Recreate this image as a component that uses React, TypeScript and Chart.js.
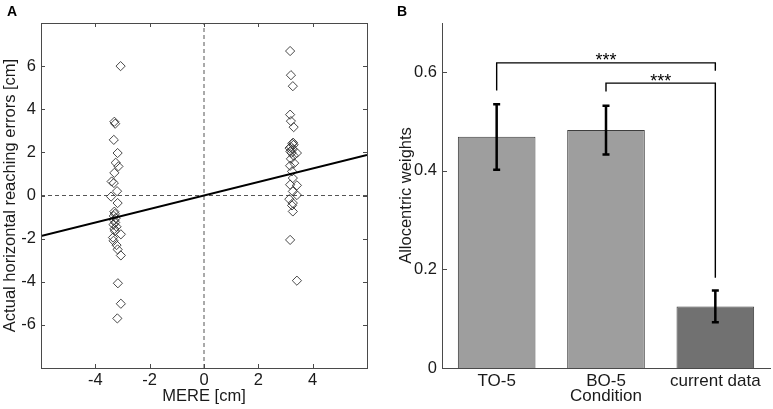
import React, { useEffect, useRef } from 'react';
import { Chart, registerables } from 'chart.js';
Chart.register(...registerables);

// ---------- Panel A data ----------
const leftX = [-3.07, -3.30, -3.27, -3.32, -3.18, -3.25, -3.15, -3.30, -3.40, -3.32, -3.20, -3.42, -3.18, -3.30, -3.28, -3.32, -3.25, -3.30, -3.27, -3.33, -3.22, -3.30, -3.28, -3.06, -3.35, -3.33, -3.22, -3.18, -3.06, -3.17, -3.06, -3.19];
const leftY = [6.0, 3.42, 3.33, 2.58, 1.97, 1.52, 1.35, 1.05, 0.65, 0.58, 0.20, -0.05, -0.35, -0.75, -0.85, -0.95, -1.05, -1.15, -1.25, -1.35, -1.45, -1.55, -1.65, -1.80, -1.95, -2.10, -2.30, -2.50, -2.78, -4.07, -5.02, -5.70];
const rightX = [3.17, 3.20, 3.27, 3.17, 3.20, 3.30, 3.28, 3.25, 3.30, 3.20, 3.15, 3.27, 3.18, 3.22, 3.42, 3.30, 3.20, 3.32, 3.17, 3.24, 3.27, 3.17, 3.42, 3.27, 3.42, 3.14, 3.27, 3.24, 3.27, 3.17, 3.42];
const rightY = [6.70, 5.58, 5.07, 3.75, 3.45, 3.17, 2.45, 2.40, 2.35, 2.25, 2.20, 2.15, 2.05, 1.98, 1.97, 1.85, 1.70, 1.50, 1.38, 1.12, 0.81, 0.50, 0.47, 0.19, 0.02, -0.17, -0.35, -0.46, -0.74, -2.06, -3.95];
const fitX = [-6, 6];
const fitY = [-1.88, 1.88];
const xTicksA = [-4, -2, 0, 2, 4];
const yTicksA = [-6, -4, -2, 0, 2, 4, 6];

// ---------- Panel B data ----------
const categories = ['TO-5', 'BO-5', 'current data'];
const weights = [0.469, 0.483, 0.125];
const errLow = [0.402, 0.433, 0.093];
const errHigh = [0.535, 0.532, 0.157];
const yTicksB = [0, 0.2, 0.4, 0.6];
const bracketFrom = [0, 1];
const bracketTo = [2, 2];
const bracketTop = [0.619, 0.578];
const bracketLeftEnd = [0.563, 0.561];
const bracketRightEnd = [0.603, 0.183];
const bracketLabels = ['***', '***'];

const FONT = "'Liberation Sans', Arial, Helvetica, sans-serif";
const TEXT = '#1a1a1a';
const AXIS = '#4a4a4a';

const frameA = {
  id: 'frameA',
  afterDatasetsDraw(chart: any) {
    const { ctx, chartArea: a, scales } = chart;
    ctx.save();
    ctx.strokeStyle = AXIS;
    ctx.lineWidth = 1;
    ctx.strokeRect(Math.round(a.left) + 0.5, Math.round(a.top) + 0.5, Math.round(a.right - a.left), Math.round(a.bottom - a.top));
    const t = 4;
    ctx.beginPath();
    for (const v of xTicksA) {
      const px = Math.round(scales.x.getPixelForValue(v)) + 0.5;
      ctx.moveTo(px, a.bottom); ctx.lineTo(px, a.bottom - t);
      ctx.moveTo(px, a.top); ctx.lineTo(px, a.top + t);
    }
    for (const v of yTicksA) {
      const py = Math.round(scales.y.getPixelForValue(v)) + 0.5;
      ctx.moveTo(a.left, py); ctx.lineTo(a.left + t, py);
      ctx.moveTo(a.right, py); ctx.lineTo(a.right - t, py);
    }
    ctx.stroke();
    ctx.restore();
  },
};

const extrasB = {
  id: 'extrasB',
  afterDatasetsDraw(chart: any) {
    const { ctx, chartArea: a, scales } = chart;
    const meta = chart.getDatasetMeta(0);
    const ys = scales.y;
    ctx.save();
    // inward y ticks
    ctx.strokeStyle = AXIS;
    ctx.lineWidth = 1;
    ctx.beginPath();
    for (const v of yTicksB) {
      const py = Math.round(ys.getPixelForValue(v)) + 0.5;
      ctx.moveTo(a.left, py); ctx.lineTo(a.left + 5, py);
    }
    ctx.stroke();
    // error bars
    ctx.strokeStyle = '#000';
    ctx.lineWidth = 2.5;
    ctx.beginPath();
    weights.forEach((_, i) => {
      const x = meta.data[i].x;
      const y1 = ys.getPixelForValue(errLow[i]);
      const y2 = ys.getPixelForValue(errHigh[i]);
      ctx.moveTo(x, y1); ctx.lineTo(x, y2);
      ctx.moveTo(x - 3.5, y1); ctx.lineTo(x + 3.5, y1);
      ctx.moveTo(x - 3.5, y2); ctx.lineTo(x + 3.5, y2);
    });
    ctx.stroke();
    // brackets
    ctx.lineWidth = 1.4;
    ctx.fillStyle = '#000';
    ctx.font = `18px ${FONT}`;
    ctx.textAlign = 'center';
    ctx.textBaseline = 'alphabetic';
    bracketFrom.forEach((f, i) => {
      const x1 = meta.data[f].x;
      const x2 = meta.data[bracketTo[i]].x;
      const yt = ys.getPixelForValue(bracketTop[i]);
      ctx.beginPath();
      ctx.moveTo(x1, ys.getPixelForValue(bracketLeftEnd[i]));
      ctx.lineTo(x1, yt);
      ctx.lineTo(x2, yt);
      ctx.lineTo(x2, ys.getPixelForValue(bracketRightEnd[i]));
      ctx.stroke();
      ctx.fillText(bracketLabels[i], (x1 + x2) / 2, yt + 3.5);
    });
    ctx.restore();
  },
};

export default function App() {
  const refA = useRef<HTMLCanvasElement>(null);
  const refB = useRef<HTMLCanvasElement>(null);

  useEffect(() => {
    Chart.defaults.font.family = FONT;
    Chart.defaults.color = TEXT;

    const points = [
      ...leftX.map((x, i) => ({ x, y: leftY[i] })),
      ...rightX.map((x, i) => ({ x, y: rightY[i] })),
    ];

    const chartA = new Chart(refA.current!, {
      type: 'scatter',
      data: {
        datasets: [
          {
            type: 'line',
            data: fitX.map((x, i) => ({ x, y: fitY[i] })),
            borderColor: '#000',
            borderWidth: 2.2,
            pointRadius: 0,
            order: 0,
          } as any,
          {
            data: points,
            pointStyle: 'rectRot',
            pointRadius: 4.6,
            borderColor: '#333',
            borderWidth: 0.9,
            backgroundColor: 'rgba(0,0,0,0)',
            order: 1,
          },
          {
            type: 'line',
            data: [{ x: 0, y: -8 }, { x: 0, y: 8 }],
            borderColor: '#555',
            borderWidth: 1,
            borderDash: [4, 3],
            pointRadius: 0,
            order: 2,
          } as any,
          {
            type: 'line',
            data: [{ x: -6, y: 0 }, { x: 6, y: 0 }],
            borderColor: '#555',
            borderWidth: 1,
            borderDash: [4, 3],
            pointRadius: 0,
            order: 2,
          } as any,
        ],
      },
      options: {
        animation: false,
        responsive: true,
        maintainAspectRatio: false,
        layout: { padding: { left: 0, top: 23, right: 33, bottom: 0 } },
        plugins: { legend: { display: false }, tooltip: { enabled: false } },
        scales: {
          x: {
            type: 'linear',
            min: -6,
            max: 6,
            afterBuildTicks: (s: any) => { s.ticks = xTicksA.map((v) => ({ value: v })); },
            afterFit: (s: any) => { s.height = 41; },
            grid: { display: false, drawTicks: false },
            border: { display: false },
            ticks: { font: { size: 16.5 }, color: TEXT, padding: 3, autoSkip: false, maxRotation: 0 },
            title: { display: true, text: 'MERE [cm]', font: { size: 16.5, lineHeight: 1 }, color: TEXT, padding: { top: 0, bottom: 4 } },
          },
          y: {
            type: 'linear',
            min: -8,
            max: 8,
            afterBuildTicks: (s: any) => { s.ticks = yTicksA.map((v) => ({ value: v })); },
            afterFit: (s: any) => { s.width = 41; },
            grid: { display: false, drawTicks: false },
            border: { display: false },
            ticks: { font: { size: 16.5 }, color: TEXT, padding: 5, autoSkip: false },
            title: { display: true, text: 'Actual horizontal reaching errors [cm]', font: { size: 16.5, lineHeight: 1 }, color: TEXT, padding: { top: 2, bottom: 0 } },
          },
        },
      },
      plugins: [frameA],
    });

    const chartB = new Chart(refB.current!, {
      type: 'bar',
      data: {
        labels: categories,
        datasets: [
          {
            data: weights,
            backgroundColor: ['#9e9e9e', '#9e9e9e', '#717171'],
            borderColor: '#3d3d3d',
            borderWidth: 1,
            barPercentage: 0.71,
            categoryPercentage: 1,
          },
        ],
      },
      options: {
        animation: false,
        responsive: true,
        maintainAspectRatio: false,
        layout: { padding: { left: 0, top: 23, right: 3, bottom: 0 } },
        plugins: { legend: { display: false }, tooltip: { enabled: false } },
        scales: {
          x: {
            type: 'category',
            afterFit: (s: any) => { s.height = 41; },
            grid: { display: false, drawTicks: false },
            border: { display: true, color: AXIS, width: 1 },
            ticks: { font: { size: 17 }, color: TEXT, padding: 3, autoSkip: false, maxRotation: 0 },
            title: { display: true, text: 'Condition', font: { size: 17, lineHeight: 1 }, color: TEXT, padding: { top: 0, bottom: 4 } },
          },
          y: {
            type: 'linear',
            min: 0,
            max: 0.7,
            afterBuildTicks: (s: any) => { s.ticks = yTicksB.map((v) => ({ value: v })); },
            afterFit: (s: any) => { s.width = 46; },
            grid: { display: false, drawTicks: false },
            border: { display: true, color: AXIS, width: 1 },
            ticks: {
              font: { size: 16.5 },
              color: TEXT,
              padding: 5,
              autoSkip: false,
              callback: (v: any) => (Number(v) === 0 ? '0' : Number(v).toFixed(1)),
            },
            title: { display: true, text: 'Allocentric weights', font: { size: 16.5, lineHeight: 1 }, color: TEXT, padding: { top: 2, bottom: 0 } },
          },
        },
      },
      plugins: [extrasB],
    });

    return () => {
      chartA.destroy();
      chartB.destroy();
    };
  }, []);

  const labelStyle: React.CSSProperties = {
    position: 'absolute',
    top: 4,
    fontFamily: FONT,
    fontWeight: 'bold',
    fontSize: 14,
    lineHeight: '14px',
    color: '#000',
  };

  return (
    <div style={{ position: 'fixed', left: 0, top: 0, width: 773, height: 409, background: '#fff' }}>
      <div style={{ position: 'absolute', left: 0, top: 0, width: 400, height: 409 }}>
        <canvas ref={refA} />
      </div>
      <div style={{ position: 'absolute', left: 396, top: 0, width: 377, height: 409 }}>
        <canvas ref={refB} />
      </div>
      <div style={{ ...labelStyle, left: 7 }}>A</div>
      <div style={{ ...labelStyle, left: 397 }}>B</div>
    </div>
  );
}
